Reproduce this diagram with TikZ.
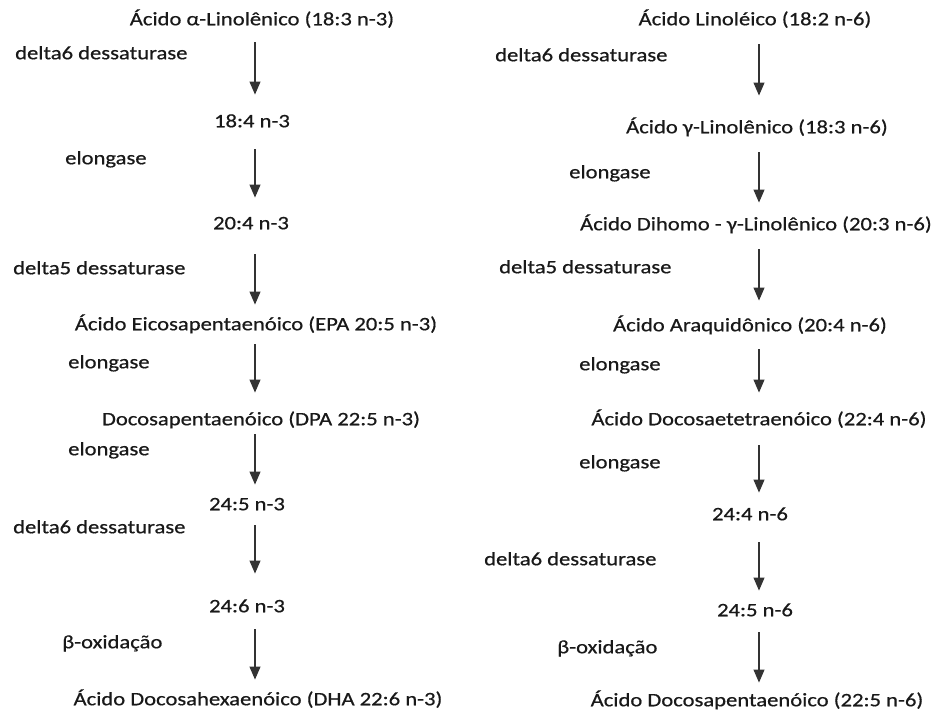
\documentclass[tikz,border=0pt]{standalone}
\usepackage{fontspec}
\setmainfont{Carlito}[FakeStretch=1.19, FakeBold=0.6]
\usetikzlibrary{arrows.meta}

\begin{document}
\begin{tikzpicture}[
    x=1pt, y=1pt,
    acid/.style={inner sep=0pt, text height=0.65em, text depth=0pt, font=\fontsize{19}{22}\selectfont, text=black!90},
    enzyme/.style={acid, anchor=west},
    arrow/.style={-{Triangle[width=11pt,length=13pt]}, line width=1.1pt, draw=black!80}
]
    \useasboundingbox (0,0) rectangle (934,-718);
    \coordinate (colL) at (255,0);
    \coordinate (colR) at (759,0);

    % n-3 pathway
    \node[acid] (a1) at (262,-22) {Ácido α-Linolênico (18:3 n-3)};
    \node[acid] (a2) at (252,-124) {18:4 n-3};
    \node[acid] (a3) at (251,-226) {20:4 n-3};
    \node[acid] (a4) at (256,-327) {Ácido Eicosapentaenóico (EPA 20:5 n-3)};
    \node[acid] (a5) at (261,-422) {Docosapentaenóico (DPA 22:5 n-3)};
    \node[acid] (a6) at (247,-507) {24:5 n-3};
    \node[acid] (a7) at (247,-609) {24:6 n-3};
    \node[acid] (a8) at (258,-702) {Ácido Docosahexaenóico (DHA 22:6 n-3)};

    \node[enzyme] (e1) at (15,-56) {delta6 dessaturase};
    \node[enzyme] (e2) at (65,-161) {elongase};
    \node[enzyme] (e3) at (13,-271) {delta5 dessaturase};
    \node[enzyme] (e4) at (68,-365) {elongase};
    \node[enzyme] (e5) at (68,-452) {elongase};
    \node[enzyme] (e6) at (13,-530) {delta6 dessaturase};
    \node[enzyme] (e7) at (62,-645) {β-oxidação};

    % n-6 pathway
    \node[acid] (b1) at (755,-22) {Ácido Linoléico (18:2 n-6)};
    \node[acid] (b2) at (757,-130) {Ácido γ-Linolênico (18:3 n-6)};
    \node[acid] (b3) at (756,-227) {Ácido Dihomo - γ-Linolênico (20:3 n-6)};
    \node[acid] (b4) at (750,-328) {Ácido Araquidônico (20:4 n-6)};
    \node[acid] (b5) at (759,-422) {Ácido Docosaetetraenóico (22:4 n-6)};
    \node[acid] (b6) at (750,-517) {24:4 n-6};
    \node[acid] (b7) at (755,-613) {24:5 n-6};
    \node[acid] (b8) at (757,-703) {Ácido Docosapentaenóico (22:5 n-6)};

    \node[enzyme] (f1) at (495,-58) {delta6 dessaturase};
    \node[enzyme] (f2) at (569,-175) {elongase};
    \node[enzyme] (f3) at (499,-270) {delta5 dessaturase};
    \node[enzyme] (f4) at (579,-367) {elongase};
    \node[enzyme] (f5) at (579,-465) {elongase};
    \node[enzyme] (f6) at (484,-562) {delta6 dessaturase};
    \node[enzyme] (f7) at (557,-650) {β-oxidação};

    % Arrows
    \foreach \from/\to/\s/\e in {a1/a2/17/26, a2/a3/22/25, a3/a4/25/19, a4/a5/14/26, a5/a6/9/19, a6/a7/15/32, a7/a8/17/19}
        \draw[arrow, shorten <=\s pt, shorten >=\e pt] (\from.south -| colL) -- (\to.north -| colL);
    \foreach \from/\to/\s/\e in {b1/b2/19/31, b2/b3/19/21, b3/b4/19/24, b4/b5/18/26, b5/b6/20/21, b6/b7/22/19, b7/b8/16/17}
        \draw[arrow, shorten <=\s pt, shorten >=\e pt] (\from.south -| colR) -- (\to.north -| colR);

\end{tikzpicture}
\end{document}
